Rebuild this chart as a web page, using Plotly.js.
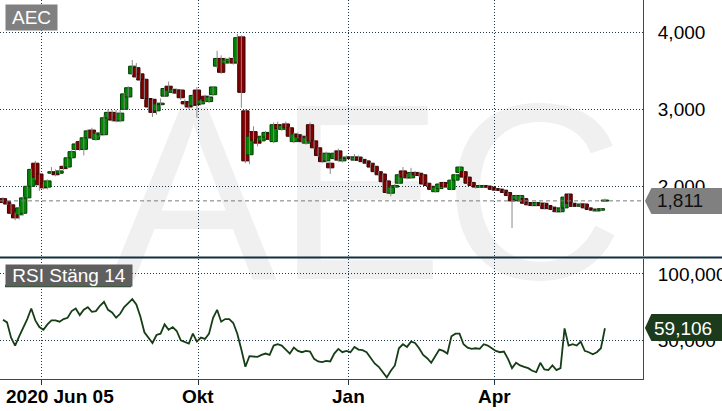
<!DOCTYPE html>
<html><head><meta charset="utf-8">
<script src="https://cdn.plot.ly/plotly-3.0.1.min.js"></script>
<style>
html,body{margin:0;padding:0;background:#fff;overflow:hidden;}
#wrap{position:relative;width:722px;height:411px;}
#wm{position:absolute;left:0;top:0;}
#chart{position:absolute;left:0;top:0;width:722px;height:411px;}
</style></head><body>
<div id="wrap">
<svg id="wm" width="722" height="411"><text x="110" y="279" font-family="Liberation Sans, Arial, sans-serif" font-size="250" fill="#f0f0f0">AEC</text></svg>
<div id="chart"></div>
</div>
<script>
// ---- data ----
const open = [1840,1800,1760,1650,1630,1650,1850,2000,2300,2160,2040,1990,2170,2180,2170,2260,2250,2370,2480,2580,
2480,2630,2730,2610,2670,2670,2890,2960,2900,2850,3000,3160,3460,3540,3460,3390,3140,3130,2980,3060,
3170,3300,3220,3250,3250,3100,3080,3050,3250,3070,3170,3100,3190,3560,3660,3600,3620,3660,3610,3940,
2980,2410,2710,2600,2590,2640,2690,2580,2800,2740,2810,2760,2580,2670,2650,2560,2800,2590,2500,2420,
2330,2300,2360,2460,2330,2360,2380,2340,2380,2350,2330,2300,2260,2190,2160,2070,1910,1990,2040,2200,
2140,2110,2180,2170,2150,2040,2000,1930,1970,2050,2010,1960,2080,2180,2190,2120,2050,2000,1990,1990,
2000,1990,1970,1960,1950,1920,1870,1830,1810,1840,1790,1770,1750,1780,1780,1750,1730,1710,1670,1720,
1900,1780,1760,1740,1770,1720,1700,1680,1690,1808];
const close = [1790,1770,1650,1590,1720,1850,2000,2220,2120,2020,1980,2070,2190,2150,2200,2230,2370,2450,2550,2480,
2630,2720,2630,2690,2690,2890,2960,2860,2850,2950,3200,3280,3560,3420,3380,3140,3030,2960,3070,3080,
3270,3250,3260,3210,3150,3070,3030,3180,3060,3120,3110,3160,3290,3660,3480,3640,3650,3600,3930,3220,
2330,2650,2600,2560,2650,2700,2610,2800,2750,2790,2760,2650,2680,2640,2580,2630,2590,2500,2400,2320,
2430,2240,2430,2340,2360,2380,2360,2380,2340,2320,2300,2250,2190,2150,2060,1920,1990,2010,2150,2120,
2110,2180,2150,2140,2030,2010,1960,1990,2030,2000,1990,2080,2150,2250,2120,2040,2010,1990,2010,2010,
1990,1960,1950,1950,1920,1880,1810,1880,1880,1780,1760,1750,1790,1750,1710,1720,1700,1670,1720,1860,
1780,1740,1750,1770,1720,1700,1690,1700,1710,1811];
const high = [1860,1810,1780,1660,1740,1870,2010,2230,2330,2170,2060,2090,2250,2220,2260,2290,2380,2470,2570,2600,
2650,2740,2760,2710,2700,2920,3000,2990,2990,2990,3220,3300,3640,3600,3480,3400,3150,3140,3100,3140,
3290,3360,3280,3270,3260,3130,3090,3200,3290,3130,3190,3180,3300,3760,3700,3670,3680,3680,3980,3960,
3000,2700,2780,2620,2670,2720,2710,2830,2840,2810,2840,2770,2700,2700,2670,2650,2830,2600,2510,2440,
2450,2320,2460,2490,2380,2400,2390,2420,2400,2370,2350,2310,2280,2200,2170,2080,2010,2030,2170,2250,
2160,2240,2200,2190,2160,2050,2010,2000,2050,2060,2030,2090,2160,2260,2200,2130,2060,2010,2020,2020,
2010,2000,1980,1970,1960,1930,1880,1890,1890,1850,1800,1780,1800,1800,1790,1760,1740,1720,1730,1900,
1910,1790,1780,1790,1780,1730,1710,1710,1720,1840];
const low = [1780,1760,1630,1560,1570,1620,1840,1990,2080,1940,1960,1960,2150,2130,2160,2210,2230,2360,2460,2460,
2400,2610,2620,2590,2640,2660,2870,2840,2830,2830,2990,3150,3440,3400,3360,3120,2970,2900,2930,3030,
3160,3230,3200,3200,3120,3040,3000,3030,2890,3050,3090,3080,3170,3530,3460,3580,3600,3580,3590,3020,
2300,2290,2580,2520,2570,2620,2590,2560,2730,2720,2740,2630,2560,2620,2560,2540,2570,2480,2380,2300,
2310,2160,2340,2320,2310,2340,2340,2330,2320,2300,2290,2240,2180,2140,2050,1900,1870,1980,2030,2110,
2090,2100,2140,2120,2020,2000,1950,1920,1960,1990,1980,1950,2070,2170,2110,2030,2000,1970,1980,1980,
1980,1950,1940,1940,1910,1870,1460,1820,1800,1770,1750,1740,1740,1740,1700,1710,1680,1660,1660,1710,
1730,1730,1740,1730,1710,1690,1670,1670,1680,1800];
const rsi = [65.5,63.5,52,46,53,59,66,74,65,60,58,62,65,65,64,66,67,72,74,69,
73,75,71.5,72,76,79,73,71,67,70,75,78,81,77,68,56,52,48,54,55,
62,58,60,57,50,48.5,47.5,55,49,52,51,55,67,73,64,66,66,63,55,43,
30,38,38,37.5,39,40,39,46,47,46,43,40,44.5,42,41,42,41.5,36,34,33.5,
34.5,34,40,43.5,41,42,41,45,43,42.5,41,37,32.5,30,26,22,27,31,44,47,
45,49,48,44,39,36.5,33,38,43,42,40,53,55,55,47,44.5,43.5,44,43.5,47,
46,44,42,41,41.5,36,29,33,31,30,29,27,26,33,28,27.5,31,27.5,29,59,
46,47,46,49,42,41,39.5,41,44,59.106];
const xTickPos = [9.41, 48.27, 85.64, 121.78];
const xTickText = ['2020 Jun 05', 'Okt', 'Jan', 'Apr'];
const xLabelPos = [14.1, 48.27, 85.64, 121.78];
const lastPrice = 1811;
const lastRsi = 59.106;
const priceTicks = [2000, 3000, 4000];
const rsiTicks = [50, 100];
const rsiTickText = ['50,000', '100,000'];

// ---- derived tables for the library ----
const n = close.length;
const xs = close.map((_, i) => i);
const up = close.map((c, i) => c >= open[i]);
const base = close.map((c, i) => Math.min(c, open[i]));
const body = close.map((c, i) => Math.max(Math.abs(c - open[i]), 14));
const wx = [], wy = [];
for (let i = 0; i < n; i++) { wx.push(i, i, null); wy.push(low[i], high[i], null); }
const sv = v => v.toLocaleString('en-US', {minimumFractionDigits: 3}).replace('.', ',');

const FONT = 'Liberation Sans, Arial, sans-serif';
const grid = {gridcolor:'#1d3548', griddash:'1px,2px', gridwidth:1};

const traces = [
  {type:'scatter', mode:'lines', x:wx, y:wy, xaxis:'x', yaxis:'y',
   line:{color:'#8a8a8a', width:1}, hoverinfo:'skip'},
  {type:'bar', x:xs, y:body, base:base, width:1.8, xaxis:'x', yaxis:'y',
   marker:{color:up.map(u => u ? '#008600' : '#800000'),
           line:{color:up.map(u => u ? '#003d00' : '#3a0000'), width:1}},
   hoverinfo:'skip'},
  {type:'scatter', mode:'lines', x:xs, y:rsi, xaxis:'x', yaxis:'y2',
   line:{color:'#163e16', width:1.8}, hoverinfo:'skip'}
];

const xLabels = xTickText.map((t, k) => ({
  text:t, xref:'x', yref:'paper', x:xLabelPos[k], y:(379-396)/379, xanchor:'center', yanchor:'middle',
  showarrow:false, font:{size:19, color:'#000', family:FONT, weight:'bold'}}));

const layout = {
  width:722, height:411, margin:{l:0, r:79, t:0, b:32},
  paper_bgcolor:'rgba(0,0,0,0)', plot_bgcolor:'rgba(0,0,0,0)',
  showlegend:false, barmode:'overlay',
  font:{family:FONT, color:'#000'},
  xaxis:Object.assign({range:[-0.743, 158.42], anchor:'y2', tickmode:'array',
    tickvals:xTickPos, ticktext:xTickPos.map(() => ''), showgrid:true, zeroline:false,
    showline:true, linecolor:'#2e4a68', linewidth:1,
    ticks:'outside', ticklen:5, tickwidth:1, tickcolor:'#1d3548'}, grid),
  yaxis:Object.assign({domain:[0.3245, 1], range:[1095, 4419], side:'right',
    tickmode:'array', tickvals:priceTicks, tickformat:',.0f', showgrid:true, zeroline:false,
    showline:true, linecolor:'#2e4a68', linewidth:1,
    ticks:'outside', ticklen:10, tickcolor:'rgba(0,0,0,0)',
    tickfont:{size:19, family:FONT, color:'#000'}}, grid),
  yaxis2:Object.assign({domain:[0, 0.3166], range:[20.8, 111.3], side:'right',
    tickmode:'array', tickvals:rsiTicks, ticktext:rsiTickText, showgrid:true, zeroline:false,
    showline:true, linecolor:'#2e4a68', linewidth:1,
    ticks:'outside', ticklen:10, tickcolor:'rgba(0,0,0,0)',
    tickfont:{size:19, family:FONT, color:'#000'}}, grid),
  shapes:[
    {type:'line', xref:'paper', yref:'y', x0:0, x1:1, y0:lastPrice, y1:lastPrice,
     line:{color:'#7a7a7a', width:1, dash:'4px,3px'}, layer:'above'},
    {type:'line', xref:'paper', yref:'paper', x0:0, x1:1.13, y0:0.3206, y1:0.3206,
     line:{color:'#12303f', width:2}, layer:'above'},
    {type:'path', xref:'paper', yref:'paper',
     path:'M 1.003 0.4697 L 1.013 0.5040 L 1.13 0.5040 L 1.13 0.4354 L 1.013 0.4354 Z',
     fillcolor:'#808080', line:{width:0}, layer:'above'},
    {type:'path', xref:'paper', yref:'paper',
     path:'M 1.003 0.1346 L 1.013 0.1715 L 1.13 0.1715 L 1.13 0.1003 L 1.013 0.1003 Z',
     fillcolor:'#1c3b1c', line:{width:0}, layer:'above'},
    {type:'line', xref:'paper', yref:'paper', x0:5/643, x1:131/643, y0:(379-286)/379, y1:(379-286)/379,
     line:{color:'#1e4a1e', width:2.5}, layer:'above'}
  ],
  annotations:[
    {text:'AEC', xref:'paper', yref:'paper', x:5/643, y:1-4/379, xanchor:'left', yanchor:'top',
     width:51, height:25, borderpad:0, align:'center', valign:'middle',
     showarrow:false, bgcolor:'#808080', font:{size:19, color:'#fff', family:FONT}},
    {text:'RSI Stäng 14', xref:'paper', yref:'paper', x:5/643, y:(379-264)/379, xanchor:'left', yanchor:'top',
     width:126, height:21, borderpad:0, align:'center', valign:'middle',
     showarrow:false, bgcolor:'#5f5f5f', font:{size:19, color:'#fff', family:FONT}},
    {text:lastPrice.toLocaleString('en-US'), xref:'paper', yref:'y', x:655/643, y:lastPrice, xanchor:'left', yanchor:'middle',
     showarrow:false, font:{size:19, color:'#111', family:FONT}},
    {text:sv(lastRsi), xref:'paper', yref:'y2', x:652/643, y:lastRsi, xanchor:'left', yanchor:'middle',
     showarrow:false, font:{size:19, color:'#fff', family:FONT}}
  ].concat(xLabels)
};

Plotly.newPlot('chart', traces, layout, {staticPlot:true, displayModeBar:false});
</script>
</body></html>
